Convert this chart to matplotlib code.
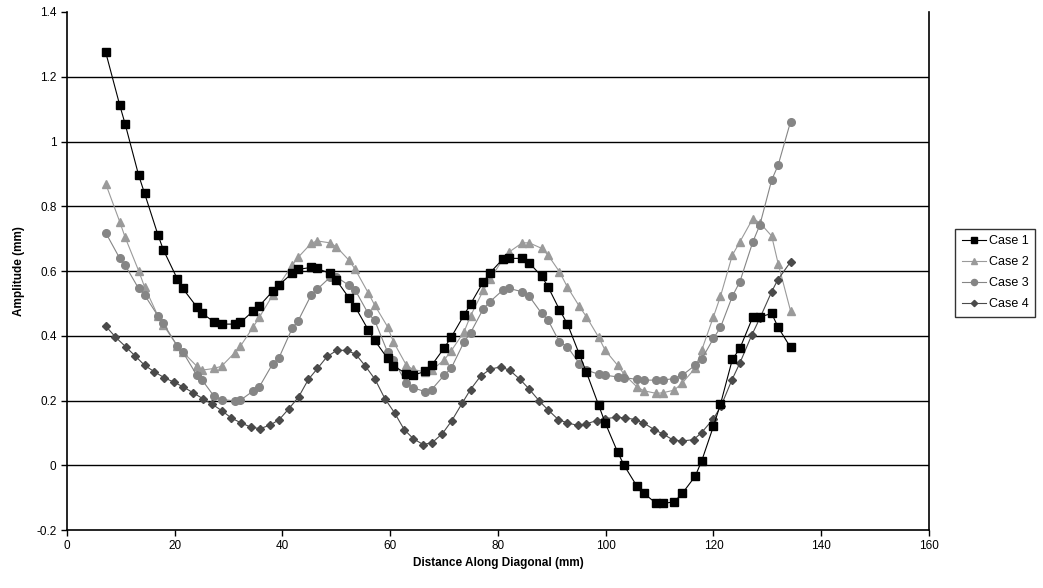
import matplotlib
matplotlib.use("Agg")
import matplotlib.pyplot as plt

# distance along diagonal (mm), shared by cases 1-3
dist = [7.2, 9.8, 10.8, 13.3, 14.4, 16.9, 17.9, 20.5, 21.5, 24.1,
        25.1, 27.3, 28.7, 31.1, 32.2, 34.6, 35.7, 38.2, 39.3, 41.8,
        42.9, 45.3, 46.4, 48.8, 50.0, 52.3, 53.5, 55.9, 57.1, 59.5,
        60.6, 63.0, 64.2, 66.5, 67.7, 70.0, 71.3, 73.7, 74.9, 77.3,
        78.5, 80.9, 82.1, 84.5, 85.8, 88.1, 89.3, 91.4, 92.9, 95.1,
        96.4, 98.7, 99.9, 102.2, 103.4, 105.8, 107.1, 109.4, 110.6, 112.7,
        114.2, 116.6, 117.8, 120.0, 121.3, 123.5, 124.9, 127.3, 128.6, 130.8,
        132.0, 134.3]

case1 = [1.275, 1.112, 1.054, 0.896, 0.840, 0.711, 0.665, 0.575, 0.546, 0.489,
         0.469, 0.443, 0.436, 0.436, 0.441, 0.477, 0.492, 0.538, 0.556, 0.593,
         0.605, 0.611, 0.608, 0.593, 0.572, 0.518, 0.489, 0.419, 0.386, 0.330,
         0.307, 0.283, 0.278, 0.290, 0.309, 0.362, 0.395, 0.464, 0.498, 0.567,
         0.594, 0.637, 0.639, 0.639, 0.625, 0.584, 0.551, 0.481, 0.436, 0.343,
         0.288, 0.185, 0.131, 0.041, 0.000, -0.065, -0.087, -0.118, -0.118, -0.113,
         -0.087, -0.034, 0.013, 0.121, 0.189, 0.327, 0.361, 0.458, 0.458, 0.469,
         0.426, 0.364]

case2 = [0.869, 0.752, 0.704, 0.601, 0.551, 0.461, 0.433, 0.368, 0.350, 0.306,
         0.294, 0.299, 0.306, 0.347, 0.368, 0.428, 0.457, 0.526, 0.556, 0.618,
         0.642, 0.685, 0.693, 0.687, 0.675, 0.634, 0.605, 0.533, 0.495, 0.428,
         0.381, 0.309, 0.296, 0.288, 0.294, 0.325, 0.353, 0.412, 0.461, 0.541,
         0.574, 0.636, 0.659, 0.687, 0.687, 0.670, 0.649, 0.598, 0.550, 0.491,
         0.459, 0.395, 0.355, 0.309, 0.281, 0.242, 0.230, 0.222, 0.224, 0.232,
         0.254, 0.300, 0.355, 0.459, 0.522, 0.649, 0.690, 0.762, 0.749, 0.708,
         0.623, 0.477]

case3 = [0.718, 0.639, 0.618, 0.546, 0.526, 0.461, 0.438, 0.368, 0.350, 0.278,
         0.263, 0.213, 0.203, 0.199, 0.201, 0.230, 0.242, 0.314, 0.330, 0.423,
         0.446, 0.525, 0.543, 0.580, 0.582, 0.556, 0.541, 0.469, 0.448, 0.350,
         0.325, 0.253, 0.240, 0.227, 0.234, 0.278, 0.299, 0.381, 0.409, 0.484,
         0.505, 0.541, 0.546, 0.536, 0.522, 0.469, 0.448, 0.381, 0.366, 0.314,
         0.294, 0.281, 0.278, 0.273, 0.271, 0.265, 0.263, 0.263, 0.263, 0.268,
         0.278, 0.309, 0.327, 0.392, 0.426, 0.522, 0.567, 0.690, 0.742, 0.881,
         0.927, 1.061]

# case 4 was sampled on its own positions
dist4 = [7.2, 9.0, 10.9, 12.7, 14.4, 16.2, 18.0, 19.8, 21.6, 23.4,
         25.2, 27.0, 28.8, 30.5, 32.3, 34.1, 35.8, 37.7, 39.4, 41.2,
         43.0, 44.8, 46.5, 48.3, 50.1, 51.9, 53.6, 55.4, 57.2, 59.0,
         60.8, 62.6, 64.3, 66.1, 67.8, 69.7, 71.4, 73.4, 74.9, 76.8,
         78.6, 80.5, 82.2, 84.1, 85.7, 87.7, 89.3, 91.2, 92.9, 94.8,
         96.4, 98.3, 99.9, 101.9, 103.5, 105.5, 107.0, 109.0, 110.6, 112.4,
         114.1, 116.3, 117.8, 120.0, 121.4, 123.4, 124.9, 127.1, 128.6, 130.8,
         131.9, 134.3]

case4 = [0.430, 0.396, 0.366, 0.337, 0.309, 0.289, 0.271, 0.257, 0.242, 0.224,
         0.206, 0.188, 0.168, 0.146, 0.131, 0.118, 0.113, 0.124, 0.141, 0.175,
         0.211, 0.265, 0.299, 0.336, 0.355, 0.355, 0.343, 0.306, 0.265, 0.206,
         0.162, 0.110, 0.082, 0.064, 0.070, 0.098, 0.137, 0.193, 0.234, 0.276,
         0.297, 0.304, 0.293, 0.265, 0.237, 0.198, 0.171, 0.141, 0.131, 0.123,
         0.128, 0.138, 0.144, 0.148, 0.147, 0.141, 0.131, 0.110, 0.097, 0.079,
         0.075, 0.079, 0.101, 0.144, 0.183, 0.263, 0.316, 0.402, 0.454, 0.536,
         0.572, 0.628]

x_ticks = [0, 20, 40, 60, 80, 100, 120, 140, 160]
y_ticks = [-0.2, 0, 0.2, 0.4, 0.6, 0.8, 1.0, 1.2, 1.4]
y_labels = ["-0.2", "0", "0.2", "0.4", "0.6", "0.8", "1", "1.2", "1.4"]

plt.rcParams['font.family'] = ['Liberation Sans', 'DejaVu Sans']

fig = plt.figure(figsize=(10.43, 5.88), dpi=100)
ax = fig.add_axes([0.0642, 0.0986, 0.8265, 0.881])

for yv in y_ticks[1:-1]:
    ax.axhline(yv, color='black', lw=1.0, zorder=1)

ax.plot(dist, case1, color='black', lw=0.8, marker='s', ms=5.5,
        label='Case 1', zorder=5)
ax.plot(dist, case2, color='#9a9a9a', lw=0.8, marker='^', ms=5.5,
        label='Case 2', zorder=3)
ax.plot(dist, case3, color='#858585', lw=0.8, marker='o', ms=5.5,
        label='Case 3', zorder=4)
ax.plot(dist4, case4, color='#4a4a4a', lw=0.8, marker='D', ms=4,
        label='Case 4', zorder=4)

ax.set_xlim(0, 160)
ax.set_ylim(-0.2, 1.4)
ax.set_xticks(x_ticks)
ax.set_yticks(y_ticks)
ax.set_yticklabels(y_labels)
ax.tick_params(labelsize=8.5, direction='out', length=4, width=1)
for s in ax.spines.values():
    s.set_linewidth(1.2)
ax.spines['top'].set_visible(False)

ax.set_xlabel('Distance Along Diagonal (mm)', fontsize=8.5, fontweight='bold',
              labelpad=3)
ax.set_ylabel('Amplitude (mm)', fontsize=8.5, fontweight='bold', labelpad=8)

leg = fig.legend(loc='upper left', bbox_to_anchor=(0.910, 0.622),
                 fontsize=9, frameon=True, fancybox=False, borderpad=0.55,
                 handlelength=1.9, handletextpad=0.2, labelspacing=0.72,
                 markerscale=0.8)
leg.get_frame().set_edgecolor('black')
leg.get_frame().set_linewidth(1.0)

fig.savefig('out.png', dpi=100)
